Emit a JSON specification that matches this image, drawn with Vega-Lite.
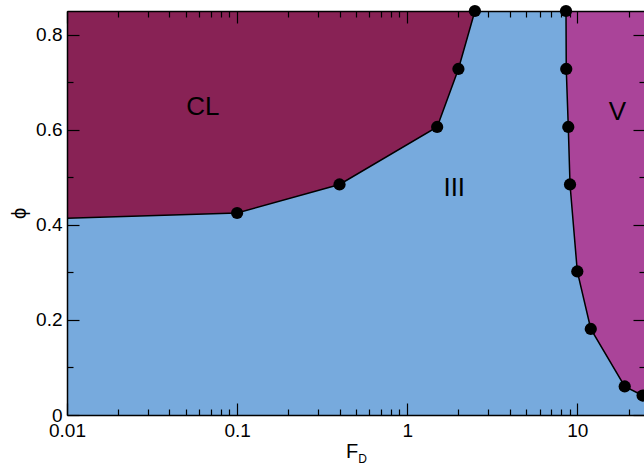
{
  "$schema": "https://vega.github.io/schema/vega-lite/v6.json",
  "width": 578,
  "height": 404,
  "autosize": {"type": "none"},
  "padding": {"left": 67, "top": 11, "right": 0, "bottom": 51},
  "background": "white",
  "config": {
    "view": {"stroke": null},
    "font": "Liberation Sans",
    "axis": {
      "domainColor": "black",
      "domainWidth": 1.5,
      "tickColor": "black",
      "tickWidth": 1.2,
      "labelColor": "black",
      "labelFont": "Liberation Sans",
      "labelFontSize": 19,
      "titleColor": "black",
      "titleFont": "Liberation Sans, DejaVu Sans",
      "titleFontWeight": "normal",
      "grid": false,
      "labelOverlap": false,
      "labelFlush": false,
      "labelBound": false
    }
  },
  "datasets": {
    "cl_boundary": [
      {"F_D": 0.01, "phi": 0.414},
      {"F_D": 0.1, "phi": 0.425},
      {"F_D": 0.4, "phi": 0.485},
      {"F_D": 1.5, "phi": 0.606},
      {"F_D": 2.0, "phi": 0.728},
      {"F_D": 2.5, "phi": 0.85}
    ],
    "v_boundary": [
      {"F_D": 8.58, "phi": 0.85},
      {"F_D": 8.61, "phi": 0.728},
      {"F_D": 8.85, "phi": 0.606},
      {"F_D": 9.06, "phi": 0.485},
      {"F_D": 10.0, "phi": 0.302},
      {"F_D": 12.0, "phi": 0.181},
      {"F_D": 19.0, "phi": 0.06},
      {"F_D": 24.2, "phi": 0.041}
    ],
    "regions": [
      {"region": "CL", "F_D": 0.063, "phi": 0.648},
      {"region": "III", "F_D": 1.89, "phi": 0.478},
      {"region": "V", "F_D": 17.2, "phi": 0.638}
    ]
  },
  "layer": [
    {
      "description": "region III fills the whole phase plane",
      "data": {"values": [{"F_D": 0.01, "F_D_end": 25, "phi": 0, "phi_end": 0.85}]},
      "mark": {"type": "rect", "color": "#77AADD"},
      "encoding": {
        "x": {
          "field": "F_D",
          "type": "quantitative",
          "scale": {"type": "log", "domain": [0.01, 25], "nice": false},
          "axis": {
            "orient": "bottom",
            "zindex": 2,
            "title": "F",
            "titleFontSize": 20,
            "titleX": 284.5,
            "titleY": 42,
            "titleAlign": "center",
            "titleBaseline": "alphabetic",
            "values": [0.01, 0.02, 0.03, 0.04, 0.05, 0.06, 0.07, 0.08, 0.09, 0.1, 0.2, 0.3, 0.4, 0.5, 0.6, 0.7, 0.8, 0.9, 1, 2, 3, 4, 5, 6, 7, 8, 9, 10, 20],
            "labelExpr": "indexof([0.01, 0.1, 1, 10], datum.value) >= 0 ? format(datum.value, '~g') : ''",
            "tickSize": {"condition": {"test": "indexof([0.01, 0.1, 1, 10], datum.value) >= 0", "value": -12}, "value": -6},
            "labelPadding": 18
          }
        },
        "x2": {"field": "F_D_end"},
        "y": {
          "field": "phi",
          "type": "quantitative",
          "scale": {"domain": [0, 0.85], "nice": false, "zero": false},
          "axis": {
            "orient": "left",
            "zindex": 2,
            "title": "ϕ",
            "titleFontSize": 20,
            "titleAngle": 270,
            "titleX": -48,
            "titleY": 202,
            "titleAlign": "center",
            "titleBaseline": "middle",
            "values": [0, 0.1, 0.2, 0.3, 0.4, 0.5, 0.6, 0.7, 0.8],
            "labelExpr": "indexof([0, 0.2, 0.4, 0.6, 0.8], datum.value) >= 0 ? format(datum.value, '~g') : ''",
            "tickSize": {"condition": {"test": "indexof([0, 0.2, 0.4, 0.6, 0.8], datum.value) >= 0", "value": -12}, "value": -6},
            "labelPadding": 17
          }
        },
        "y2": {"field": "phi_end"}
      }
    },
    {
      "description": "region CL above its boundary",
      "data": {"name": "cl_boundary"},
      "mark": {"type": "area", "color": "#882255", "opacity": 1},
      "encoding": {
        "x": {
          "field": "F_D",
          "type": "quantitative",
          "axis": {
            "orient": "top",
            "zindex": 2,
            "title": null,
            "labels": false,
            "values": [0.01, 0.02, 0.03, 0.04, 0.05, 0.06, 0.07, 0.08, 0.09, 0.1, 0.2, 0.3, 0.4, 0.5, 0.6, 0.7, 0.8, 0.9, 1, 2, 3, 4, 5, 6, 7, 8, 9, 10, 20],
            "tickSize": {"condition": {"test": "indexof([0.01, 0.1, 1, 10], datum.value) >= 0", "value": -12}, "value": -6}
          }
        },
        "y": {
          "field": "phi",
          "type": "quantitative",
          "axis": {
            "orient": "right",
            "zindex": 2,
            "title": null,
            "labels": false,
            "values": [0, 0.1, 0.2, 0.3, 0.4, 0.5, 0.6, 0.7, 0.8],
            "tickSize": {"condition": {"test": "indexof([0, 0.2, 0.4, 0.6, 0.8], datum.value) >= 0", "value": -12}, "value": -6}
          }
        },
        "y2": {"datum": 0.85}
      }
    },
    {
      "description": "region V to the right of its boundary",
      "data": {"name": "v_boundary"},
      "mark": {"type": "area", "orient": "horizontal", "color": "#AA4499", "opacity": 1},
      "encoding": {
        "y": {"field": "phi", "type": "quantitative", "axis": null},
        "x": {"field": "F_D", "type": "quantitative", "axis": null},
        "x2": {"datum": 25}
      }
    },
    {
      "data": {"name": "cl_boundary"},
      "mark": {"type": "line", "color": "black", "strokeWidth": 1.5},
      "encoding": {
        "x": {"field": "F_D", "type": "quantitative", "axis": null},
        "y": {"field": "phi", "type": "quantitative", "axis": null}
      }
    },
    {
      "data": {"name": "v_boundary"},
      "mark": {"type": "line", "color": "black", "strokeWidth": 1.5},
      "encoding": {
        "x": {"field": "F_D", "type": "quantitative", "axis": null},
        "y": {"field": "phi", "type": "quantitative", "axis": null}
      }
    },
    {
      "data": {"name": "cl_boundary"},
      "transform": [{"filter": "datum.F_D > 0.01"}],
      "mark": {"type": "point", "filled": true, "color": "black", "opacity": 1, "size": 150},
      "encoding": {
        "x": {"field": "F_D", "type": "quantitative", "axis": null},
        "y": {"field": "phi", "type": "quantitative", "axis": null}
      }
    },
    {
      "data": {"name": "v_boundary"},
      "mark": {"type": "point", "filled": true, "color": "black", "opacity": 1, "size": 150},
      "encoding": {
        "x": {"field": "F_D", "type": "quantitative", "axis": null},
        "y": {"field": "phi", "type": "quantitative", "axis": null}
      }
    },
    {
      "description": "region names",
      "data": {"name": "regions"},
      "mark": {"type": "text", "fontSize": 26, "color": "black", "align": "center", "baseline": "middle"},
      "encoding": {
        "text": {"field": "region"},
        "x": {"field": "F_D", "type": "quantitative", "axis": null},
        "y": {"field": "phi", "type": "quantitative", "axis": null}
      }
    },
    {
      "description": "subscript of the x-axis title F_D",
      "data": {"values": [{"sub": "D", "F_D": 0.547, "phi": 0}]},
      "mark": {"type": "text", "fontSize": 12, "color": "black", "align": "center", "baseline": "alphabetic", "dy": 48},
      "encoding": {
        "text": {"field": "sub"},
        "x": {"field": "F_D", "type": "quantitative", "axis": null},
        "y": {"field": "phi", "type": "quantitative", "axis": null}
      }
    }
  ],
  "resolve": {"axis": {"x": "independent", "y": "independent"}}
}
